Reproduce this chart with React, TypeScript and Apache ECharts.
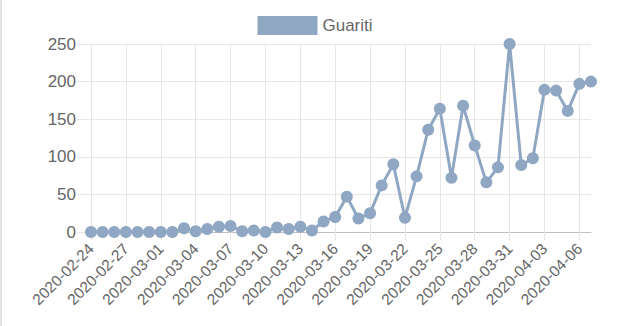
import React, { useEffect, useRef } from "react";
import * as echarts from "echarts";

const dates = [
  "2020-02-24", "2020-02-25", "2020-02-26", "2020-02-27", "2020-02-28", "2020-02-29",
  "2020-03-01", "2020-03-02", "2020-03-03", "2020-03-04", "2020-03-05", "2020-03-06",
  "2020-03-07", "2020-03-08", "2020-03-09", "2020-03-10", "2020-03-11", "2020-03-12",
  "2020-03-13", "2020-03-14", "2020-03-15", "2020-03-16", "2020-03-17", "2020-03-18",
  "2020-03-19", "2020-03-20", "2020-03-21", "2020-03-22", "2020-03-23", "2020-03-24",
  "2020-03-25", "2020-03-26", "2020-03-27", "2020-03-28", "2020-03-29", "2020-03-30",
  "2020-03-31", "2020-04-01", "2020-04-02", "2020-04-03", "2020-04-04", "2020-04-05",
  "2020-04-06", "2020-04-07",
];

const guariti = [
  0, 0, 0, 0, 0, 0, 0, 0, 5, 1, 4, 7,
  8, 1, 2, 0, 6, 4, 7, 2, 14, 20, 47, 18,
  25, 62, 90, 19, 74, 136, 164, 72, 168, 115, 66, 86,
  250, 89, 98, 189, 188, 161, 197, 200,
];

const seriesName = "Guariti";
const yTicks = { min: 0, max: 250, interval: 50 };

const FONT = "'Liberation Sans', Arial, Helvetica, sans-serif";
const TEXT = "#666666";
const GRID = "#e6e6e6";
const COLOR = "#8fa7c2";

export default function App() {
  const ref = useRef<HTMLDivElement>(null);

  useEffect(() => {
    if (!ref.current) return;
    const chart = echarts.init(ref.current, undefined, { renderer: "svg" });
    chart.setOption({
      animation: false,
      backgroundColor: "#ffffff",
      textStyle: { fontFamily: FONT },
      graphic: [
        {
          type: "rect",
          shape: { x: 0, y: 0, width: 2, height: 326 },
          style: { fill: "#e2e2e2" },
        },
      ],
      legend: {
        data: [seriesName],
        top: 11,
        left: "center",
        icon: "rect",
        itemWidth: 60,
        itemHeight: 19,
        itemGap: 10,
        textStyle: { fontSize: 17, color: TEXT, fontFamily: FONT },
      },
      grid: { left: 91, right: 39, top: 44, bottom: 94, containLabel: false },
      xAxis: {
        type: "category",
        data: dates,
        boundaryGap: false,
        axisLine: { show: true, lineStyle: { color: "#bfbfbf", width: 1 } },
        axisTick: {
          show: true,
          interval: 2,
          length: 8,
          lineStyle: { color: GRID },
        },
        axisLabel: {
          interval: 2,
          rotate: 45,
          margin: 14,
          fontSize: 15.5,
          color: TEXT,
          fontFamily: FONT,
        },
        splitLine: {
          show: true,
          interval: 2,
          lineStyle: { color: GRID, width: 1 },
        },
      },
      yAxis: {
        type: "value",
        min: yTicks.min,
        max: yTicks.max,
        interval: yTicks.interval,
        axisLine: { show: false },
        axisTick: { show: true, length: 14, lineStyle: { color: GRID } },
        axisLabel: { margin: 15, fontSize: 17, color: TEXT, fontFamily: FONT },
        splitLine: { show: true, lineStyle: { color: GRID, width: 1 } },
      },
      series: [
        {
          name: seriesName,
          type: "line",
          data: guariti,
          symbol: "circle",
          symbolSize: 12,
          showSymbol: true,
          showAllSymbol: true,
          color: COLOR,
          itemStyle: { color: COLOR },
          lineStyle: { color: COLOR, width: 3 },
        },
      ],
    });
    return () => chart.dispose();
  }, []);

  return (
    <div
      ref={ref}
      style={{ position: "absolute", left: 0, top: 0, width: 630, height: 326 }}
    />
  );
}
